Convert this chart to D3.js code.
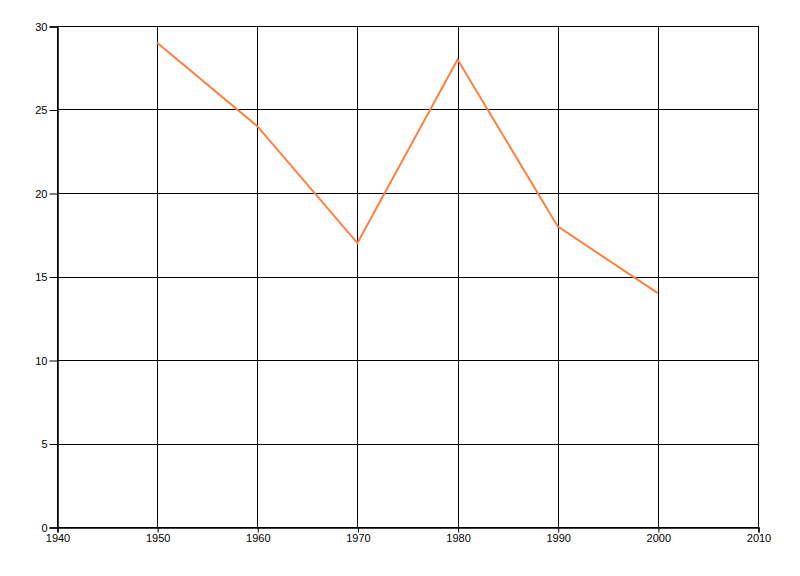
<!DOCTYPE html>
<html><head><meta charset="utf-8">
<script src="https://cdn.jsdelivr.net/npm/d3@7"></script>
<style>body{margin:0;background:#fff}svg text{font-family:"Liberation Sans",Arial,sans-serif;font-size:11px;fill:#000}</style>
</head><body><svg id="c" width="800" height="576"></svg>
<script>
const years = [1950, 1960, 1970, 1980, 1990, 2000];
const values = [29, 24, 17, 28, 18, 14];
const xTicks = [1940, 1950, 1960, 1970, 1980, 1990, 2000, 2010];
const yTicks = [0, 5, 10, 15, 20, 25, 30];

const svg = d3.select("#c");
const L = 57, R = 758, T = 26, B = 527;
const x = d3.scaleLinear().domain([1940, 2010]).range([L, R]);
const y = d3.scaleLinear().domain([0, 30]).range([B, T]);

const grid = svg.append("g").attr("shape-rendering","crispEdges");
grid.selectAll("line.v").data(xTicks).join("line")
  .attr("x1", d => Math.round(x(d)) + 0.5).attr("x2", d => Math.round(x(d)) + 0.5)
  .attr("y1", T).attr("y2", B).attr("stroke", "#000");
grid.selectAll("line.h").data(yTicks).join("line")
  .attr("y1", d => Math.round(y(d)) + 0.5).attr("y2", d => Math.round(y(d)) + 0.5)
  .attr("x1", L).attr("x2", R).attr("stroke", "#000");

const xAxis = d3.axisBottom(x).tickValues(xTicks).tickFormat(d3.format("d")).tickSize(5).tickPadding(2);
const gx = svg.append("g").attr("transform", `translate(0.5,${B + 0.5})`).call(xAxis);
gx.select(".domain").attr("stroke", "#000").attr("stroke-width", 1.5);
gx.selectAll(".tick line").attr("stroke", "#000");

const yAxis = d3.axisLeft(y).tickValues(yTicks).tickSize(8).tickPadding(2);
const gy = svg.append("g").attr("transform", `translate(${L + 0.5},0.5)`).call(yAxis);
gy.select(".domain").attr("stroke", "#000").attr("stroke-width", 1.5);
gy.selectAll(".tick line").attr("stroke", "#000");
svg.selectAll(".tick text").attr("font-size", 11).attr("font-family", '"Liberation Sans",Arial,sans-serif').attr("fill", "#000");

const line = d3.line().x((d, i) => x(years[i])).y(d => y(d));
svg.append("path").datum(values).attr("d", line)
  .attr("fill", "none").attr("stroke", "#FF7F3F").attr("stroke-width", 2);
</script></body></html>
